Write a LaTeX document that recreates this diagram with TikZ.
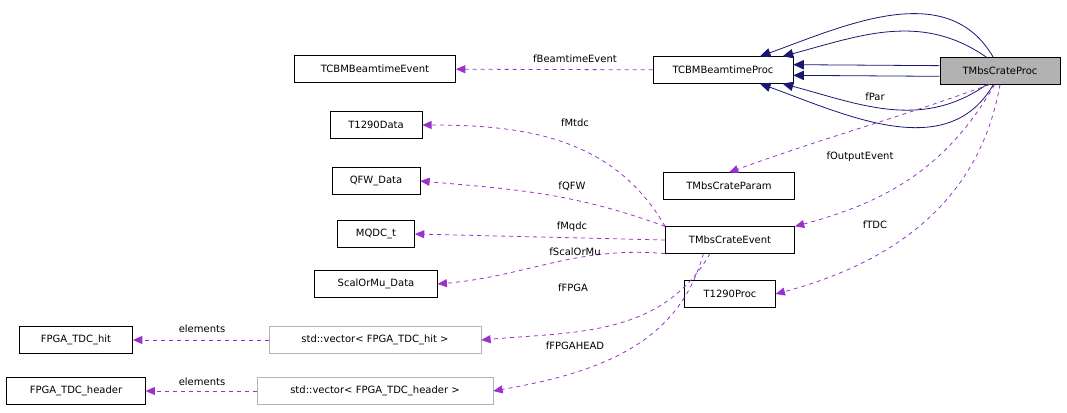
\documentclass[tikz,border=0pt]{standalone}
\usepackage{fontspec}
\setmainfont{DejaVu Sans}
\usetikzlibrary{arrows, arrows.meta, positioning}
\definecolor{edgepurple}{RGB}{153,50,204}
\definecolor{inhnavy}{RGB}{25,25,112}
\tikzset{
  cls/.style={draw=black, fill=white, minimum height=20pt, inner xsep=3pt, font=\fontsize{7.5}{9}\selectfont},
  tmpl/.style={cls, draw=gray!60},
  use/.style={draw=edgepurple, line width=0.6pt, dashed, -{Triangle[fill=edgepurple, length=7pt, width=6pt]}},
  inh/.style={draw=inhnavy, line width=0.6pt, -{Triangle[fill=inhnavy, length=8pt, width=7pt]}},
  lbl/.style={font=\fontsize{7.5}{9}\selectfont}
}
\begin{document}
\begin{tikzpicture}[x=0.75pt, y=-0.75pt]
\useasboundingbox (0,0) rectangle (1067,413);

\node [cls, fill=gray!60, minimum width=90pt] (crateproc) at (1000,71) {TMbsCrateProc};
\node [cls, minimum width=105pt] (beamproc) at (723,70) {TCBMBeamtimeProc};
\node [cls, minimum width=121pt] (beamevent) at (375,69) {TCBMBeamtimeEvent};
\node [cls, minimum width=69pt] (t1290data) at (376,125) {T1290Data};
\node [cls, minimum width=66pt] (qfw) at (376,181) {QFW\_Data};
\node [cls, minimum width=58pt] (mqdc) at (376,234) {MQDC\_t};
\node [cls, minimum width=92pt] (scal) at (376,284) {ScalOrMu\_Data};
\node [cls, minimum width=98pt] (crateparam) at (729,186) {TMbsCrateParam};
\node [cls, minimum width=97pt] (crateevent) at (730,240) {TMbsCrateEvent};
\node [cls, minimum width=68pt] (t1290proc) at (730,294) {T1290Proc};
\node [cls, minimum width=85pt] (fpgahit) at (76,340) {FPGA\_TDC\_hit};
\node [cls, minimum width=104pt] (fpgahead) at (76,391) {FPGA\_TDC\_header};
\node [tmpl, minimum width=159pt] (vechit) at (375,340) {std::vector< FPGA\_TDC\_hit >};
\node [tmpl, minimum width=177pt] (vechead) at (375,391) {std::vector< FPGA\_TDC\_header >};

% inheritance
\draw [inh] ([yshift=-4pt]crateproc.west) -- ([yshift=-4pt]beamproc.east);
\draw [inh] ([yshift=4pt]crateproc.west) -- ([yshift=4pt]beamproc.east);
\draw [inh] ([xshift=-5pt]crateproc.north) to[out=120, in=20] ([xshift=-25pt]beamproc.north east);
\draw [inh] ([xshift=-10pt]crateproc.north) to[out=145, in=15] ([xshift=-8pt]beamproc.north east);
\draw [inh] ([xshift=-5pt]crateproc.south) to[out=-120, in=-20] ([xshift=-25pt]beamproc.south east);
\draw [inh] ([xshift=-10pt]crateproc.south) to[out=-145, in=-15] ([xshift=-8pt]beamproc.south east);

% members
\draw [use] (beamproc) -- (beamevent);
\node [lbl] at (575,59) {fBeamtimeEvent};
\draw [use] ([xshift=-8pt]crateproc.south) to[out=-160, in=20] (crateparam.north);
\node [lbl] at (875,97) {fPar};
\draw [use] ([xshift=-4pt]crateproc.south) to[out=-120, in=15] (crateevent.north east);
\node [lbl] at (860,157) {fOutputEvent};
\draw [use] (crateproc.south) to[out=-100, in=15] (t1290proc.east);
\node [lbl] at (875,225) {fTDC};

\draw [use] (crateevent.north west) to[out=120, in=0] (t1290data.east);
\node [lbl] at (575,123) {fMtdc};
\draw [use] (crateevent.north west) to[out=160, in=-5] (qfw.east);
\node [lbl] at (572,186) {fQFW};
\draw [use] (crateevent.west) -- (mqdc.east);
\node [lbl] at (572,227) {fMqdc};
\draw [use] (crateevent.south west) to[out=175, in=5] (scal.east);
\node [lbl] at (575,252) {fScalOrMu};
\draw [use] ([xshift=-15pt]crateevent.south) to[out=-120, in=5] (vechit.east);
\node [lbl] at (573,288) {fFPGA};
\draw [use] ([xshift=-20pt]crateevent.south) to[out=-105, in=10] (vechead.east);
\node [lbl] at (575,346) {fFPGAHEAD};

\draw [use] (vechit) -- (fpgahit);
\node [lbl] at (202,329) {elements};
\draw [use] (vechead) -- (fpgahead);
\node [lbl] at (202,382) {elements};
\end{tikzpicture}
\end{document}
